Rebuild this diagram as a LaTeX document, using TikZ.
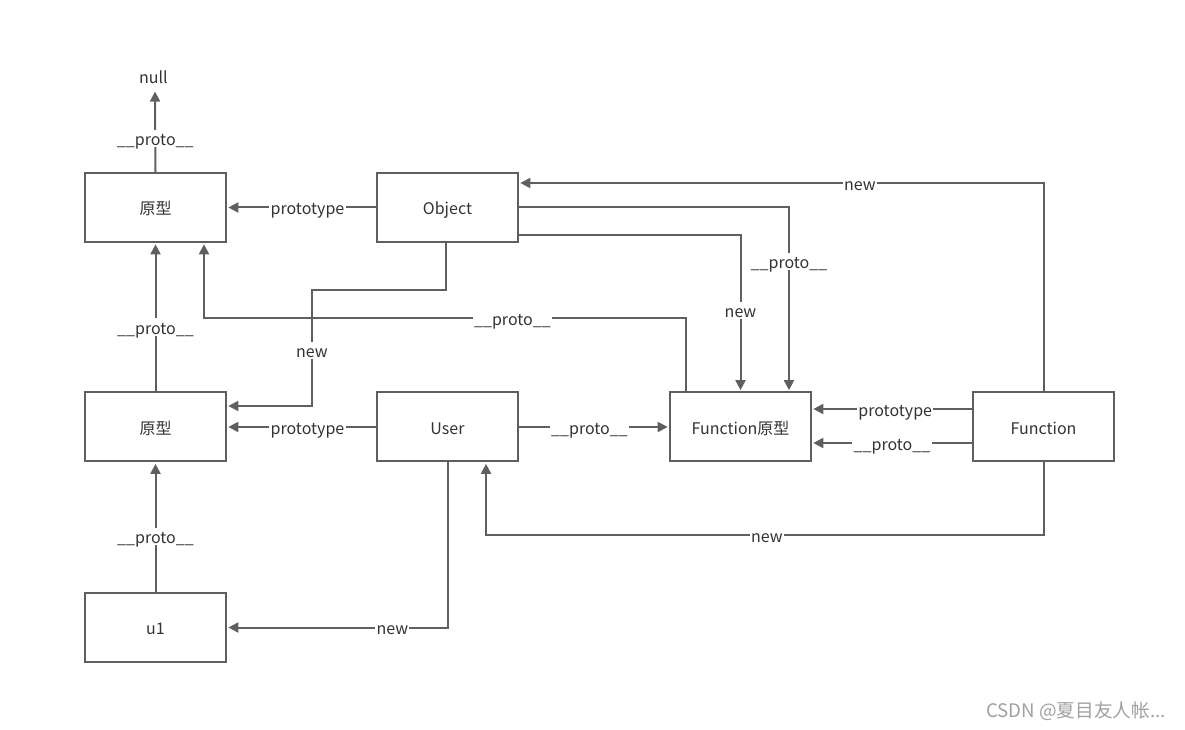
\documentclass[tikz,border=0pt]{standalone}
\usepackage{fontspec}
\setmainfont{Noto Sans CJK SC}
\usetikzlibrary{arrows.meta,calc}
\definecolor{ln}{HTML}{5F5F5F}
\definecolor{tx}{HTML}{333333}
\definecolor{wmc}{HTML}{A0A0A0}
\begin{document}
\begin{tikzpicture}[x=0.75pt,y=-0.75pt,
  txt/.style={text=tx,font=\fontsize{12}{14}\selectfont,text height=10.9pt,text depth=0pt},
  box/.style={txt,draw=ln,line width=1.5pt,fill=white,minimum width=105.75pt,minimum height=51.75pt,inner sep=0pt},
  arr/.style={draw=ln,line width=1.5pt,-{Triangle[length=7.5pt,width=7.5pt]},shorten >=1pt},
  lbl/.style={txt,fill=white,inner sep=1pt}]
\useasboundingbox (0,0) rectangle (1185,730);
\node[box] (p1) at (155.5,207.5) {原型};
\node[box] (obj) at (447.5,207.5) {Object};
\node[box] (p2) at (155.5,427) {原型};
\node[box] (user) at (447.5,427) {User};
\node[box] (fp) at (740.5,427) {Function原型};
\node[box] (fn) at (1043.5,427) {Function};
\node[box] (u1) at (155.5,627.5) {u1};
\node[txt,inner sep=2pt] (null) at (153.5,76) {null};
\node[font=\fontsize{14}{16}\selectfont,text=wmc] (wm) at (1076,711) {CSDN @夏目友人帐...};
% connectors
\draw[arr] (p1.north) -- node[lbl,pos=0.41]{\_\_proto\_\_} ($(null.south)+(1.5,4)$);
\draw[arr] (obj.west) -- node[lbl,pos=0.46]{prototype} (p1.east);
\draw[arr] (fn.north) |- node[lbl,pos=0.675]{new} ($(obj.east)+(0,-24.5)$);
\draw[arr] (obj.east) -| node[lbl,pos=0.647]{\_\_proto\_\_} ($(fp.north)+(48.5,0)$);
\draw[arr] ($(obj.east)+(0,27.5)$) -| node[lbl,pos=0.74]{new} (fp.north);
\draw[arr] ($(obj.south)+(-2,0)$) |- ++(-133.5,47.5) |- node[lbl,pos=0.26]{new} ($(p2.east)+(0,-21)$);
\draw[arr] ($(fp.north)+(-54.5,0)$) |- node[lbl,pos=0.68]{\_\_proto\_\_} ($(p1.south)+(48.5,75.5)$) -- ($(p1.south)+(48.5,0)$);
\draw[arr] (p2.north) -- node[lbl,pos=0.435]{\_\_proto\_\_} (p1.south);
\draw[arr] (user.west) -- node[lbl,pos=0.46]{prototype} (p2.east);
\draw[arr] (user.east) -- node[lbl,pos=0.47]{\_\_proto\_\_} (fp.west);
\draw[arr] ($(fn.west)+(0,-18)$) -- node[lbl,pos=0.48]{prototype} ($(fp.east)+(0,-18)$);
\draw[arr] ($(fn.west)+(0,16)$) -- node[lbl,pos=0.5]{\_\_proto\_\_} ($(fp.east)+(0,16)$);
\draw[arr] (fn.south) |- node[lbl,pos=0.748]{new} ($(user.south)+(38.5,73)$) -- ($(user.south)+(38.5,0)$);
\draw[arr] (user.south) |- node[lbl,pos=0.625]{new} (u1.east);
\draw[arr] (u1.north) -- node[lbl,pos=0.43]{\_\_proto\_\_} (p2.south);
\end{tikzpicture}
\end{document}
